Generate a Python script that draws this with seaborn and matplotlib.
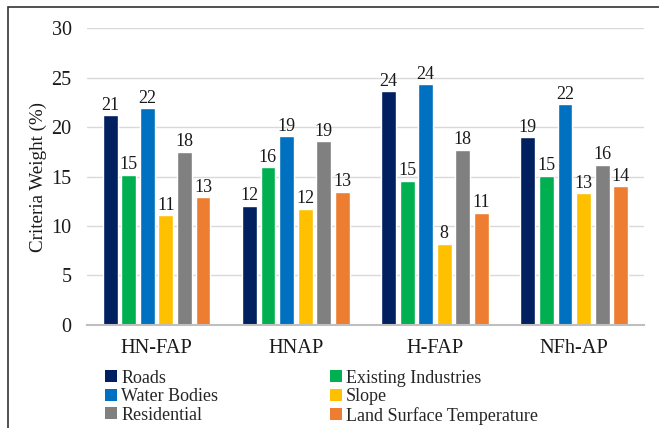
import matplotlib
matplotlib.use("Agg")
import matplotlib.pyplot as plt
import seaborn as sns
import pandas as pd
from matplotlib.patches import Rectangle, Patch

# Criteria weights (%) for each suitability scenario
scenarios = ["HN-FAP", "HNAP", "H-FAP", "NFh-AP"]
criteria = ["Roads", "Existing Industries", "Water Bodies", "Slope",
            "Residential", "Land Surface Temperature"]
roads = [21.2, 12.05, 23.65, 18.97]
existing_industries = [15.2, 15.96, 14.6, 15.1]
water_bodies = [21.9, 19.1, 24.36, 22.3]
slope = [11.1, 11.75, 8.2, 13.3]
residential = [17.5, 18.55, 17.7, 16.2]
land_surface_temp = [12.9, 13.46, 11.34, 14.0]
colors = ["#002060", "#00B050", "#0070C0", "#FFC000", "#808080", "#ED7D31"]

series = [roads, existing_industries, water_bodies, slope, residential, land_surface_temp]
rows = []
for crit, vals in zip(criteria, series):
    for sc, v in zip(scenarios, vals):
        rows.append({"Scenario": sc, "Criterion": crit, "Weight": v})
df = pd.DataFrame(rows)

sns.set_theme(style="white")
plt.rcParams["font.family"] = ["Liberation Serif", "DejaVu Serif"]

fig = plt.figure(figsize=(6.59, 4.28), dpi=100)
ax = fig.add_axes([0.132, 0.241, 0.845, 0.693])

sns.barplot(data=df, x="Scenario", y="Weight", hue="Criterion",
            order=scenarios, hue_order=criteria, palette=colors,
            width=0.8, gap=0.2, errorbar=None, ax=ax, legend=False,
            saturation=1)

for cont in ax.containers:
    ax.bar_label(cont, fmt="%.0f", padding=1, fontsize=13, color="#1a1a1a")

ax.set_ylim(0, 30)
ax.set_yticks(range(0, 31, 5))
ax.set_xlim(-0.5, 3.5)
ax.yaxis.grid(True, color="#D9D9D9", linewidth=1.0)
ax.set_axisbelow(True)
for side in ["top", "right", "left"]:
    ax.spines[side].set_visible(False)
ax.spines["bottom"].set_color("#BFBFBF")
ax.spines["bottom"].set_linewidth(1.5)
ax.tick_params(axis="y", labelsize=14.5, length=0, pad=11, labelcolor="#1a1a1a")
ax.tick_params(axis="x", labelsize=14.7, length=0, pad=10, labelcolor="#1a1a1a")
ax.set_xlabel("")
ax.set_ylabel("Criteria Weight (%)", fontsize=13.7, labelpad=3, color="#1a1a1a")

# legend filled row by row: two columns, three rows
order = [0, 2, 4, 1, 3, 5]
handles = [Patch(facecolor=colors[i], edgecolor="none") for i in order]
labels = [criteria[i] for i in order]
fig.legend(handles, labels, loc="upper left", bbox_to_anchor=(0.159, 0.136),
           ncol=2, frameon=False, fontsize=13, handlelength=0.65, handleheight=0.65,
           handletextpad=0.25, labelspacing=0.08, columnspacing=6.2,
           borderaxespad=0, borderpad=0)

# outer frame around the figure
fig.patches.append(Rectangle((8 / 659, -0.1), 1.2, 1 - 7 / 428 + 0.1,
                             transform=fig.transFigure, fill=False,
                             edgecolor="#333333", linewidth=1.2))

fig.savefig("out.png", dpi=100)
